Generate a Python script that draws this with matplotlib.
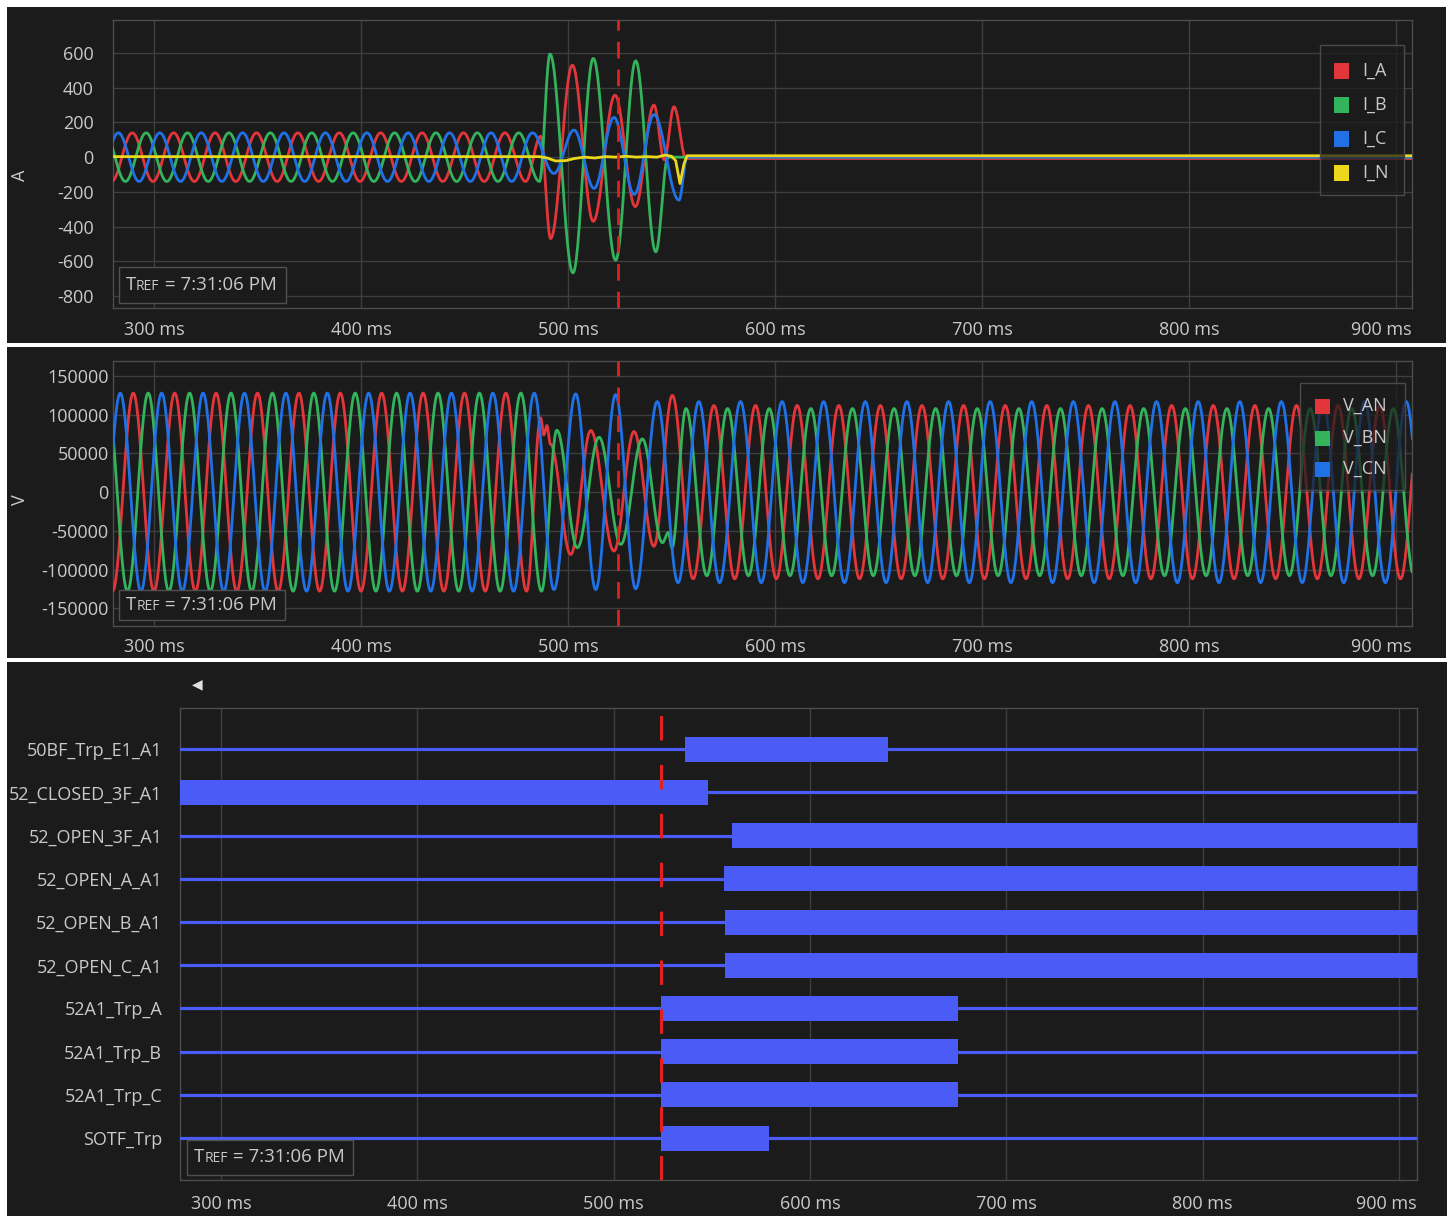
import numpy as np
import matplotlib
matplotlib.use("Agg")
import matplotlib.pyplot as plt
from matplotlib.patches import Rectangle

# ---------------- data ----------------
CURSOR_MS = 524.0

# currents (A): steady pre-fault part = (first extreme ms, last extreme ms, first extreme value)
I_PERIOD = 20.0
IA_PRE = (269.5, 479.5, 140)
IB_PRE = (276.2, 486.2, 140)
IC_PRE = (272.8, 482.8, -140)
# fault part: successive peaks / troughs, then the open breaker
IA_FAULT_T = [486.8, 491.6, 502.1, 512.2, 522.7, 532.5, 541.5, 546.5, 551.2, 557.0, 910.0]
IA_FAULT_V = [120, -469, 530, -370, 357, -285, 300, -15, 290, -8, -8]
IB_FAULT_T = [491.3, 502.4, 512.2, 523.0, 532.7, 542.4, 548.3, 910.0]
IB_FAULT_V = [594, -667, 569, -594, 555, -546, 0, 0]
IC_FAULT_T = [493.2, 502.9, 512.6, 522.2, 532.0, 541.5, 553.6, 557.5, 910.0]
IC_FAULT_V = [-94, 156, -180, 229, -215, 245, -248, 0, 0]
IN_T = [278, 486, 490, 494, 499, 503, 508, 513, 518, 523, 528, 533, 538, 543, 547, 550, 552, 554.1, 556, 557.5, 910]
IN_V = [3, 3, -5, -22, -20, -8, 0, -5, 3, 0, 5, 0, 3, 0, 12, 5, -20, -152, -40, 8, 8]

# voltages (V)
V_PERIOD_PRE = 20.0
V_PERIOD_POST = 20.1
VA_PRE = (270.0, 480.0, 128000)
VB_PRE = (267.2, 487.2, -128000)
VC_PRE = (263.7, 483.7, 128000)
VA_FAULT_T = [486.8, 488.3, 489.8, 491.5, 501.3, 511.0, 522.2, 531.9, 541.5, 550.4]
VA_FAULT_V = [96000, 74000, 86000, 62000, -80500, 79600, -76200, 78300, -70000, 125000]
VB_FAULT_T = [494.6, 504.5, 515.0, 525.5, 535.9, 545.6, 548.5, 550.2]
VB_FAULT_V = [80000, -71800, 71000, -67500, 68800, -65300, -52000, -72000]
VC_FAULT_T = [493.2, 503.7, 513.4, 523.0, 532.7]
VC_FAULT_V = [-126000, 127000, -126000, 126000, -125000]
VA_POST = (560.45, 925.0, -112000)
VB_POST = (557.0, 925.0, 108000)
VC_POST = (543.1, 925.0, 117000)

I_NAMES = ["I_A", "I_B", "I_C", "I_N"]
V_NAMES = ["V_AN", "V_BN", "V_CN"]

# digital channels: ON intervals (ms)
DIG_NAMES = ["50BF_Trp_E1_A1", "52_CLOSED_3F_A1", "52_OPEN_3F_A1", "52_OPEN_A_A1",
             "52_OPEN_B_A1", "52_OPEN_C_A1", "52A1_Trp_A", "52A1_Trp_B",
             "52A1_Trp_C", "SOTF_Trp"]
DIG_ON = [[(536.3, 639.9)], [(270.0, 547.9)], [(560.1, 920.0)], [(556.2, 920.0)],
          [(556.7, 920.0)], [(556.7, 920.0)], [(524.1, 675.4)], [(524.1, 675.4)],
          [(524.1, 675.4)], [(524.1, 579.1)]]

I_TICKS = [600, 400, 200, 0, -200, -400, -600, -800]
V_TICKS = [150000, 100000, 50000, 0, -50000, -100000, -150000]
T_TICKS = [300, 400, 500, 600, 700, 800, 900]

# ---------------- style ----------------
W, H = 1450, 1216
BG = "#1b1b1b"
GRID = "#3e3e3e"
SPINE = "#4c4c4c"
TXT = "#c9c9c9"
RED, GREEN, BLUE, YELLOW = "#e3363b", "#33b35c", "#2070e6", "#ebd81c"
DIG = "#4b5cf6"
CURSOR = "#e32020"
FS = 13

plt.rcParams["font.family"] = ["Open Sans", "DejaVu Sans"]


def steady(seg, period):
    t_first, t_end, v_first = seg
    half = period / 2.0
    n = int(np.floor((t_end - t_first) / half + 1e-6)) + 1
    k = np.arange(n)
    return list(t_first + k * half), list(v_first * (-1.0) ** k)


def trace(times, values, n=30):
    # half-cosine between successive extremes
    xs, ys = [], []
    for i in range(len(times) - 1):
        s = np.linspace(0, 1, n, endpoint=False)
        xs.append(times[i] + s * (times[i + 1] - times[i]))
        ys.append(values[i] + (values[i + 1] - values[i]) * (1 - np.cos(np.pi * s)) / 2)
    xs.append([times[-1]])
    ys.append([values[-1]])
    return np.concatenate(xs), np.concatenate(ys)


def box(x0, y0, x1, y1):
    return [x0 / W, 1 - y1 / H, (x1 - x0) / W, (y1 - y0) / H]


def style_axes(ax, xlim, ylim, label_off):
    ax.set_facecolor(BG)
    ax.set_xlim(*xlim)
    ax.set_ylim(*ylim)
    for s in ax.spines.values():
        s.set_color(SPINE)
        s.set_linewidth(1.0)
    ax.set_xticks(T_TICKS)
    ax.tick_params(axis="x", length=0, labelbottom=False)
    ax.grid(True, axis="x", color=GRID, lw=1.0, zorder=0)
    # x tick labels drawn by hand so the last one stays inside the frame
    for t in T_TICKS:
        if t == T_TICKS[-1]:
            xpos, ha = xlim[1], "right"
        else:
            xpos, ha = t, "center"
        ax.annotate(f"{t} ms", xy=(xpos, 0), xycoords=("data", "axes fraction"),
                    xytext=(0, label_off), textcoords="offset points", ha=ha, va="center",
                    fontsize=FS, color=TXT, annotation_clip=False)


def tref(fig, ax, x0, y0, x1, y1):
    ax.add_patch(Rectangle((x0 / W, 1 - y1 / H), (x1 - x0) / W, (y1 - y0) / H,
                           transform=fig.transFigure, facecolor=BG, edgecolor="#505050",
                           lw=1.0, zorder=9, clip_on=False))
    t = ax.text((x0 + 7) / W, 1 - (y0 + y1) / 2 / H, "T", transform=fig.transFigure,
                va="center", ha="left", fontsize=13.5, color=TXT, zorder=10)
    r = ax.annotate("REF", xy=(1, 0), xycoords=t, va="bottom", ha="left",
                    fontsize=10, color=TXT, zorder=10)
    ax.annotate(" = 7:31:06 PM", xy=(1, 0), xycoords=r, va="bottom", ha="left",
                fontsize=13.5, color=TXT, zorder=10)


def legend(fig, ax, frame, ys, sq_x, lab_x, names, colors):
    x0, y0, x1, y1 = frame
    ax.add_patch(Rectangle((x0 / W, 1 - y1 / H), (x1 - x0) / W, (y1 - y0) / H,
                           transform=fig.transFigure, facecolor=(0.106, 0.106, 0.106, 0.72),
                           edgecolor="#4a4a4a", lw=1.0, zorder=9, clip_on=False))
    for y, name, c in zip(ys, names, colors):
        ax.add_patch(Rectangle((sq_x / W, 1 - (y + 7.5) / H), 15 / W, 15 / H,
                               transform=fig.transFigure, facecolor=c, edgecolor="none",
                               zorder=10, clip_on=False))
        ax.text(lab_x / W, 1 - y / H, name, transform=fig.transFigure, va="center",
                ha="left", fontsize=FS, color=TXT, zorder=10)


fig = plt.figure(figsize=(W / 100, H / 100), dpi=100, facecolor="white")

# dark panel backgrounds
for p in [(7, 7, 1446, 343), (7, 347, 1446, 658), (7, 662, 1447, 1216)]:
    fig.add_artist(Rectangle((p[0] / W, 1 - p[3] / H), (p[2] - p[0]) / W, (p[3] - p[1]) / H,
                             transform=fig.transFigure, facecolor=BG, edgecolor="none", zorder=0))

# ---------------- currents ----------------
ax_i = fig.add_axes(box(113, 20, 1412, 308))
style_axes(ax_i, (280.2, 907.7), (-869, 790), -16)
ax_i.set_yticks(I_TICKS, [str(v) for v in I_TICKS])
ax_i.tick_params(axis="y", length=0, pad=14, labelsize=FS, labelcolor=TXT)
ax_i.grid(True, axis="y", color=GRID, lw=1.0, zorder=0)

for pre, ft, fv, c in [(IA_PRE, IA_FAULT_T, IA_FAULT_V, RED),
                       (IB_PRE, IB_FAULT_T, IB_FAULT_V, GREEN),
                       (IC_PRE, IC_FAULT_T, IC_FAULT_V, BLUE)]:
    st, sv = steady(pre, I_PERIOD)
    x, y = trace(st + ft, sv + fv)
    ax_i.plot(x, y, color=c, lw=2.0, zorder=3)
ax_i.plot(IN_T, IN_V, color=YELLOW, lw=2.0, zorder=4)
ax_i.axvline(CURSOR_MS, color=CURSOR, lw=2.0, dashes=(6, 4), zorder=6)
fig.text(20 / W, 1 - 175 / H, "A", rotation=90, ha="center", va="center", fontsize=FS, color=TXT)
tref(fig, ax_i, 118.7, 267, 286, 303)
legend(fig, ax_i, (1320, 45, 1404, 195), [71, 105, 139, 173], 1334, 1362,
       I_NAMES, [RED, GREEN, BLUE, YELLOW])

# ---------------- voltages ----------------
ax_v = fig.add_axes(box(113, 361, 1412, 626))
style_axes(ax_v, (280.2, 907.7), (-172900, 169400), -15)
ax_v.set_yticks(V_TICKS, [str(v) for v in V_TICKS])
ax_v.tick_params(axis="y", length=0, pad=3, labelsize=FS, labelcolor=TXT)
ax_v.grid(True, axis="y", color=GRID, lw=1.0, zorder=0)

for pre, ft, fv, post, c in [(VA_PRE, VA_FAULT_T, VA_FAULT_V, VA_POST, RED),
                             (VB_PRE, VB_FAULT_T, VB_FAULT_V, VB_POST, GREEN),
                             (VC_PRE, VC_FAULT_T, VC_FAULT_V, VC_POST, BLUE)]:
    st, sv = steady(pre, V_PERIOD_PRE)
    pt, pv = steady(post, V_PERIOD_POST)
    x, y = trace(st + ft + pt, sv + fv + pv)
    ax_v.plot(x, y, color=c, lw=2.0, zorder=3)
ax_v.axvline(CURSOR_MS, color=CURSOR, lw=2.0, dashes=(6, 4), zorder=6)
fig.text(20 / W, 1 - 500 / H, "V", rotation=90, ha="center", va="center", fontsize=FS, color=TXT)
tref(fig, ax_v, 119.3, 590, 285, 620)
legend(fig, ax_v, (1300, 383, 1405, 490), [406, 438, 469], 1315, 1343,
       V_NAMES, [RED, GREEN, BLUE])

# ---------------- digital channels ----------------
ax_d = fig.add_axes(box(180.3, 708, 1416.7, 1180))
style_axes(ax_d, (279.3, 909.0), (9.97, -0.956), -17.5)
ax_d.set_yticks(range(len(DIG_NAMES)), DIG_NAMES)
ax_d.tick_params(axis="y", length=0, pad=13, labelsize=FS, labelcolor=TXT)
for i, spans in enumerate(DIG_ON):
    ax_d.axhline(i, color=DIG, lw=2.3, zorder=3)
    ax_d.broken_barh([(a, b - a) for a, b in spans], (i - 0.29, 0.58),
                     facecolor=DIG, edgecolor="none", zorder=4)
ax_d.axvline(CURSOR_MS, color=CURSOR, lw=2.2, dashes=(8, 8), zorder=6)
tref(fig, ax_d, 187, 1140, 353, 1175)
fig.text(197 / W, 1 - 684 / H, "\u25c0", ha="center", va="center", fontsize=10,
         color="#e0e0e0", family=["DejaVu Sans"])

fig.savefig("out.png", dpi=100, facecolor="white")
